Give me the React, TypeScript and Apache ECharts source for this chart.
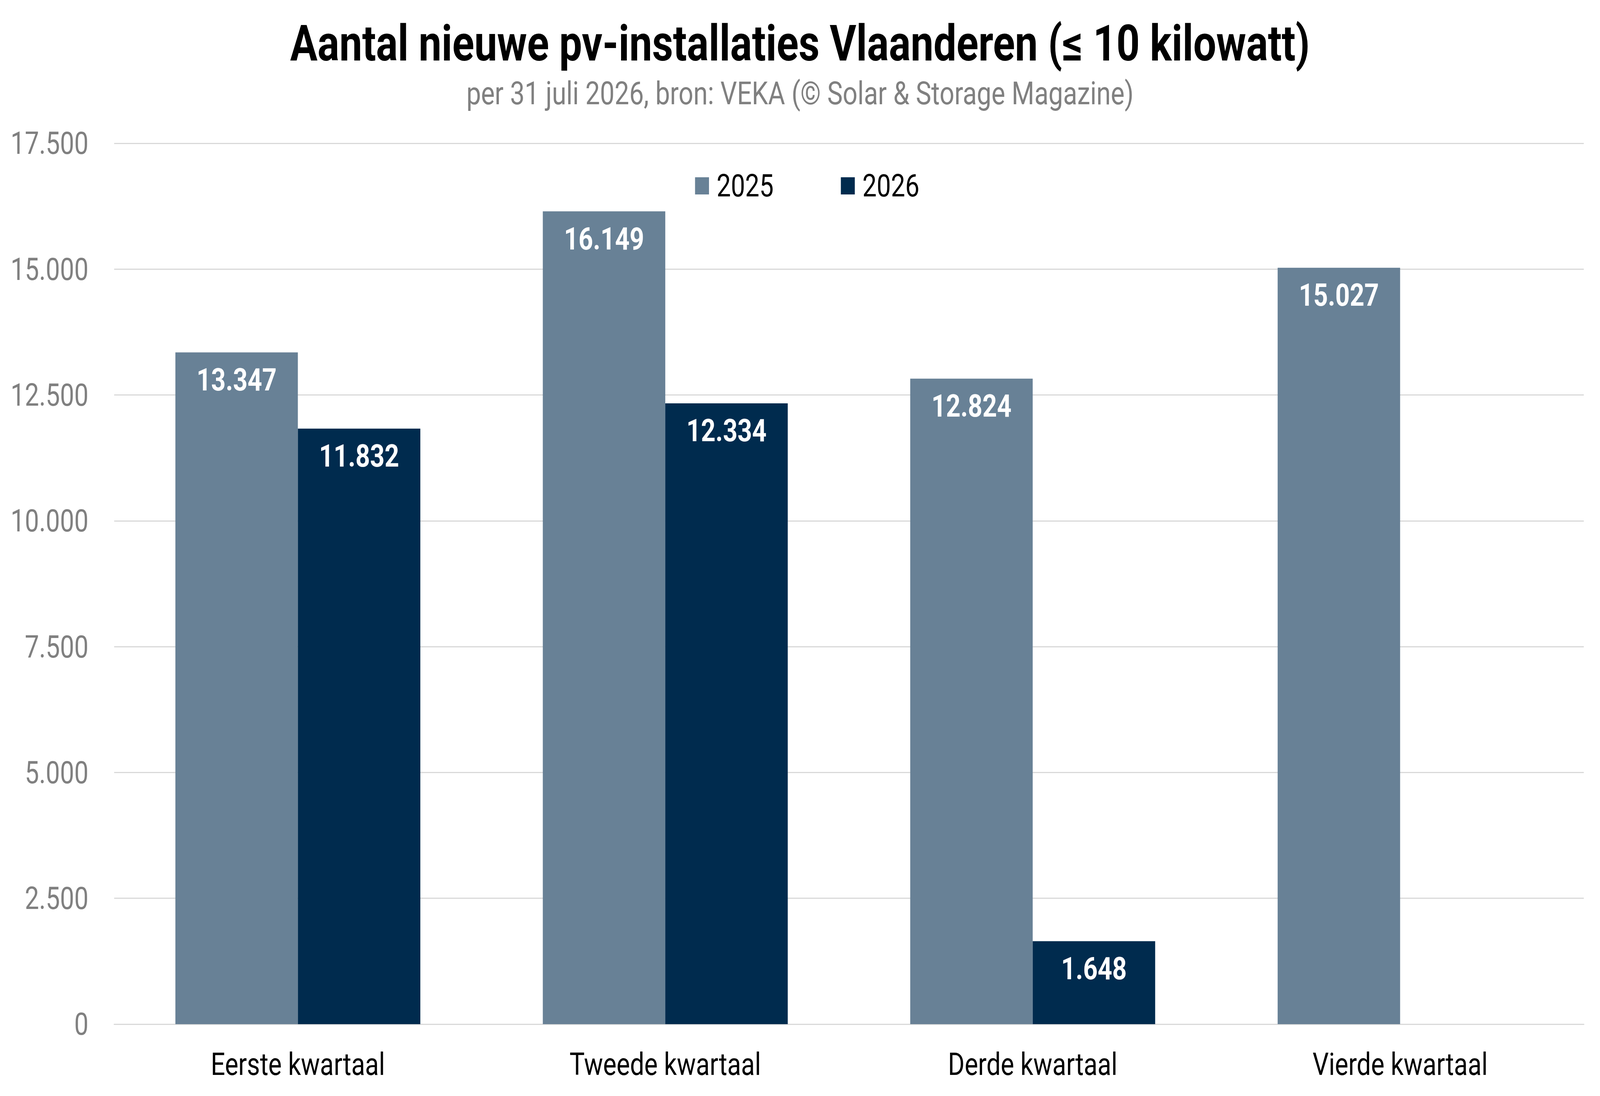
import React, { useEffect, useRef } from "react";
import * as echarts from "echarts";

const TITLE = "Aantal nieuwe pv-installaties Vlaanderen (≤ 10 kilowatt)";
const SUBTITLE = "per 31 juli 2026, bron: VEKA (© Solar & Storage Magazine)";
const categories = ["Eerste kwartaal", "Tweede kwartaal", "Derde kwartaal", "Vierde kwartaal"];
const seriesNames = ["2025", "2026"];
const values2025 = [13347, 16149, 12824, 15027];
const values2026: (number | null)[] = [11832, 12334, 1648, null];
const Y_MIN = 0;
const Y_MAX = 17500;
const Y_STEP = 2500;

const DESIGN_W = 5046;
const DESIGN_H = 2807;
const COLORS = ["#688196", "#002B4E"];
const FONT = "Roboto";

function fmt(v: number): string {
  return String(Math.round(v)).replace(/\B(?=(\d{3})+(?!\d))/g, ".");
}

export default function App() {
  const ref = useRef<HTMLDivElement>(null);
  const vw = typeof window !== "undefined" ? window.innerWidth : DESIGN_W;
  const vh = typeof window !== "undefined" ? window.innerHeight : DESIGN_H;
  const sx = vw / DESIGN_W;
  const sy = vh / DESIGN_H;

  useEffect(() => {
    document.body.style.margin = "0";
    if (!ref.current) return;
    const chart = echarts.init(ref.current, undefined, { renderer: "svg" });
    const label = {
      show: true,
      position: "insideTop",
      distance: 30,
      color: "#ffffff",
      fontFamily: FONT,
      fontWeight: "bold",
      fontSize: 80,
      lineHeight: 80,
      formatter: (p: any) => (p.value == null ? "" : fmt(p.value)),
    };
    chart.setOption({
      animation: false,
      backgroundColor: "#ffffff",
      color: COLORS,
      textStyle: { fontFamily: FONT },
      title: [
        {
          text: TITLE,
          left: "center",
          top: 47,
          padding: 0,
          textStyle: {
            fontFamily: FONT,
            fontWeight: "bold",
            fontSize: 128.5,
            lineHeight: 128,
            color: "#000000",
          },
        },
        {
          text: SUBTITLE,
          left: "center",
          top: 198,
          padding: 0,
          textStyle: {
            fontFamily: FONT,
            fontWeight: "normal",
            fontSize: 82,
            lineHeight: 82,
            color: "#808080",
          },
        },
      ],
      legend: {
        data: seriesNames,
        left: 2192,
        top: 436,
        padding: 0,
        itemWidth: 44,
        itemHeight: 44,
        itemGap: 212,
        icon: "rect",
        textStyle: {
          fontFamily: FONT,
          fontSize: 80,
          lineHeight: 80,
          color: "#000000",
          padding: [0, 0, 0, 19],
        },
      },
      grid: { left: 360, right: 51, top: 367, bottom: 184, containLabel: false },
      xAxis: {
        type: "category",
        data: categories,
        axisTick: { show: false },
        axisLine: { show: true, lineStyle: { color: "#D9D9D9", width: 3 } },
        axisLabel: {
          margin: 63,
          fontFamily: FONT,
          fontSize: 80,
          lineHeight: 80,
          color: "#000000",
        },
      },
      yAxis: {
        type: "value",
        min: Y_MIN,
        max: Y_MAX,
        interval: Y_STEP,
        axisLine: { show: false },
        axisTick: { show: false },
        splitLine: { lineStyle: { color: "#D9D9D9", width: 3 } },
        axisLabel: {
          margin: 81,
          fontFamily: FONT,
          fontSize: 80,
          lineHeight: 80,
          color: "#808080",
          formatter: (v: number) => fmt(v),
        },
      },
      series: [
        {
          name: seriesNames[0],
          type: "bar",
          data: values2025,
          barGap: "0%",
          barCategoryGap: "33.333%",
          itemStyle: { color: COLORS[0] },
          label,
        },
        {
          name: seriesNames[1],
          type: "bar",
          data: values2026,
          barGap: "0%",
          barCategoryGap: "33.333%",
          itemStyle: { color: COLORS[1] },
          label,
        },
      ],
    });
    return () => chart.dispose();
  }, []);

  return (
    <div style={{ width: vw, height: vh, overflow: "hidden", position: "relative", background: "#ffffff" }}>
      <div
        ref={ref}
        style={{
          width: DESIGN_W,
          height: DESIGN_H,
          transform: `scale(${sx}, ${sy})`,
          transformOrigin: "0 0",
        }}
      />
    </div>
  );
}
